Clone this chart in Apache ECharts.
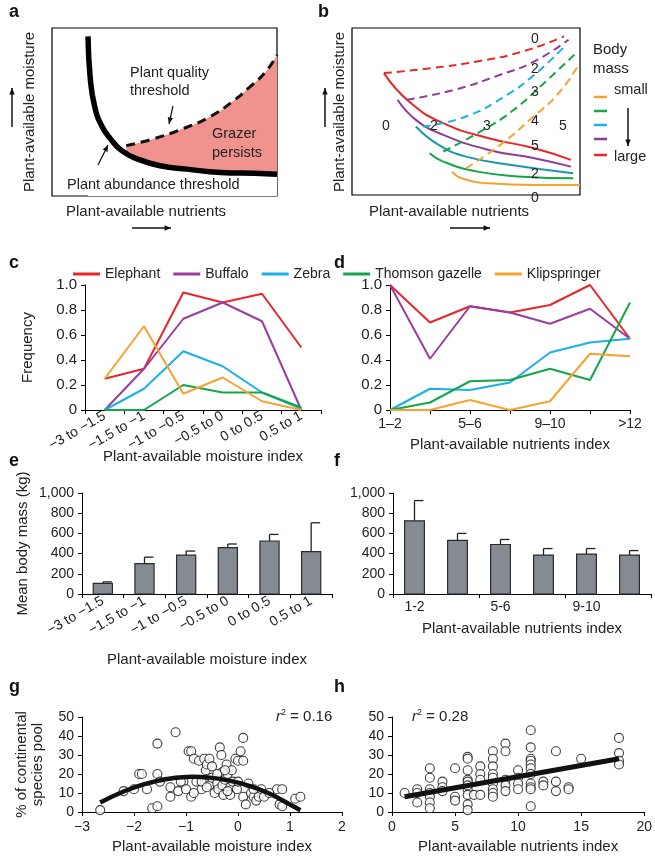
<!DOCTYPE html>
<html lang="en">
<head>
<meta charset="UTF-8">
<title>Grazer panels</title>
<script src="https://cdn.jsdelivr.net/npm/echarts@6/dist/echarts.min.js"></script>
</head>
<body style="margin:0;background:#fff">
<div id="main" style="width:655px;height:868px"></div>
<script>
// ---- panel a (schematic)
let aLowX = [0.16, 0.17, 0.19, 0.22, 0.26, 0.31, 0.38, 0.48, 0.6, 0.75, 0.9, 1.0];
let aLowY = [0.95, 0.7, 0.53, 0.42, 0.34, 0.27, 0.22, 0.18, 0.16, 0.14, 0.135, 0.13];
let aHighX = [0.33, 0.45, 0.58, 0.7, 0.8, 0.88, 0.95, 1.0];
let aHighY = [0.3, 0.34, 0.4, 0.47, 0.56, 0.65, 0.74, 0.84];
// ---- panel b (schematic)
let bLines = [
  {c:'#e8262b', solid:[[0.14,0.73],[0.25,0.56],[0.4,0.43],[0.6,0.34],[0.8,0.28],[0.96,0.21]],
                dash:[[0.14,0.73],[0.35,0.76],[0.55,0.8],[0.75,0.86],[0.93,0.95]]},
  {c:'#8e3b9b', solid:[[0.2,0.57],[0.28,0.45],[0.4,0.36],[0.6,0.27],[0.8,0.22],[0.96,0.17]],
                dash:[[0.24,0.57],[0.45,0.63],[0.65,0.72],[0.8,0.8],[0.95,0.93]]},
  {c:'#1bb0e8', solid:[[0.28,0.41],[0.38,0.3],[0.5,0.23],[0.7,0.18],[0.97,0.13]],
                dash:[[0.31,0.41],[0.5,0.47],[0.68,0.6],[0.8,0.72],[0.94,0.9]], sc:'#1a9aa8'},
  {c:'#15a54a', solid:[[0.34,0.25],[0.4,0.2],[0.55,0.14],[0.75,0.11],[0.97,0.1]],
                dash:[[0.4,0.26],[0.55,0.37],[0.7,0.5],[0.85,0.68],[0.99,0.86]]},
  {c:'#f5a330', solid:[[0.44,0.14],[0.48,0.1],[0.6,0.07],[0.8,0.06],[1.0,0.06]],
                dash:[[0.5,0.16],[0.65,0.3],[0.78,0.45],[0.9,0.6],[0.99,0.77]]}
];
// ---- panels c, d
let species = ['Elephant', 'Buffalo', 'Zebra', 'Thomson gazelle', 'Klipspringer'];
let speciesColors = ['#e8262b', '#9c3c9e', '#1bb0e8', '#15a54a', '#f5a330'];
let moistCats = ['\u22123 to \u22121.5', '\u22121.5 to \u22121', '\u22121 to \u22120.5', '\u22120.5 to 0', '0 to 0.5', '0.5 to 1'];
let cFreq = [
  [0.25, 0.33, 0.94, 0.86, 0.93, 0.5],
  [0, 0.33, 0.73, 0.86, 0.71, 0],
  [0, 0.17, 0.47, 0.35, 0.14, 0.01],
  [0, 0, 0.2, 0.14, 0.14, 0.02],
  [0.25, 0.67, 0.13, 0.26, 0.07, 0]
];
let nutCats = ['1\u20132', '3\u20134', '5\u20136', '7\u20138', '9\u201310', '11\u201312', '>12'];
let dFreq = [
  [1, 0.7, 0.83, 0.78, 0.84, 1, 0.57],
  [1, 0.41, 0.83, 0.78, 0.69, 0.81, 0.57],
  [0, 0.17, 0.16, 0.22, 0.46, 0.54, 0.57],
  [0, 0.06, 0.23, 0.24, 0.33, 0.24, 0.86],
  [0, 0, 0.08, 0, 0.07, 0.45, 0.43]
];
// ---- panels e, f
let eMass = [105, 300, 385, 460, 525, 420];
let eUpper = [120, 365, 425, 495, 590, 705];
let fCats = ['1-2', '3-4', '5-6', '7-8', '9-10', '11-12'];
let fMass = [725, 530, 490, 385, 395, 385];
let fUpper = [925, 600, 540, 450, 450, 430];
// ---- panels g, h
let gPoints = [[-2.65,1],[-2.2,11],[-2.0,12],[-1.9,20],[-1.85,20],[-1.75,12],[-1.65,2],[-1.55,36],[-1.55,3],[-1.55,20],[-1.5,16],
  [-1.3,8],[-1.3,13],[-1.2,42],[-1.15,11],[-1.05,16],[-1.0,12],[-0.95,32],[-0.9,32],[-0.9,8],[-0.85,28],[-0.8,16],[-0.75,27],
  [-0.7,12],[-0.65,28],[-0.62,22],[-0.6,25],[-0.6,17],[-0.55,28],[-0.55,14],[-0.5,24],[-0.5,18],[-0.45,10],[-0.4,15],[-0.38,12],
  [-0.35,34],[-0.32,30],[-0.3,21],[-0.3,14],[-0.28,9],[-0.25,17],[-0.22,25],[-0.2,20],[-0.15,13],[-0.12,22],[-0.1,16],[-0.05,28],
  [-0.02,12],[0,27],[0.05,32],[0.1,39],[0.1,27],[0.1,8],[0.15,4],[0.2,15],[0.25,10],[0.3,8],[0.35,6],[0.4,8],[0.45,12],[0.5,8],
  [0.75,12],[0.8,4],[0.85,12],[0.85,3],[1.1,7],[1.2,8],[-0.15,9],[-0.7,16],[-0.85,10],[-0.4,20],[-0.6,13],[0.0,16],[-0.2,11],
  [0.3,12],[0.6,10],[-1.1,16],[-0.25,22]];
let gFitX = [-2.65, -2.2, -1.8, -1.4, -1, -0.85, -0.6, -0.2, 0.2, 0.6, 1.0, 1.2];
let gFitY = [5, 10.8, 14.7, 17.2, 18.4, 18.5, 18.2, 16.7, 13.9, 9.7, 3.9, 0.9];
let hPoints = [[1,10],[2,12],[2,10],[2,5],[3,23],[3,18],[3,12],[3,10],[3,8],[3,5],[3,2],[4,16],[4,13],[4,11],[5,23],[5,8],[5,6],
  [6,29],[6,28],[6,22],[6,17],[6,16],[6,12],[6,9],[6,4],[6,1],[6,14],[6.5,9],[7,24],[7,20],[7,17],[7,9],[8,32],[8,28],[8,24],
  [8,20],[8,15],[8,12],[8,10],[8,8],[8,18],[9,36],[9,32],[9,17],[9,14],[9,11],[10,22],[10,18],[10,15],[10,12],[11,43],[11,34],
  [11,28],[11,27],[11,25],[11,23],[11,20],[11,15],[11,13],[11,12],[11,3],[12,16],[12,14],[13,32],[13,16],[13,11],[14,13],[14,12],
  [15,28],[18,39],[18,31],[18,27],[18,25]];
let hFitX = [1, 18];
let hFitY = [8, 28];

const FONT = 'Liberation Sans';
let chart = echarts.init(document.getElementById('main'));

function zip(xs, ys) { return xs.map((x, i) => [x, ys[i]]); }
let axLine = {show: true, onZero: false, lineStyle: {color: '#000', width: 1}};
let axTick = {show: true, length: 4, lineStyle: {color: '#000'}};
let lab = (sz) => ({color: '#222', fontFamily: FONT, fontSize: sz});
let hiddenVal = (gi, max) => ({type: 'value', gridIndex: gi, min: 0, max: max, show: false});

let grids = [
  {left: 52, top: 28, width: 225, height: 168, show: true, borderColor: '#000', borderWidth: 1.2},   // a 0
  {left: 352, top: 28, width: 228, height: 167, show: true, borderColor: '#000', borderWidth: 1.2},  // b 1
  {left: 85, top: 285, width: 236, height: 125},   // c 2
  {left: 390, top: 285, width: 240, height: 125},  // d 3
  {left: 82, top: 493, width: 250, height: 101},   // e 4
  {left: 393, top: 493, width: 258, height: 101},  // f 5
  {left: 82, top: 717, width: 260, height: 95},    // g 6
  {left: 392, top: 717, width: 258, height: 95}    // h 7
];

let xAxis = [
  hiddenVal(0, 1), hiddenVal(1, 1),
  {type: 'category', gridIndex: 2, data: moistCats, axisLine: axLine, axisTick: axTick,
   axisLabel: Object.assign(lab(14), {rotate: 30, margin: 5})},
  {type: 'category', gridIndex: 3, data: nutCats, boundaryGap: false, axisLine: axLine,
   axisTick: Object.assign({}, axTick, {interval: 0}), axisLabel: Object.assign(lab(14), {interval: 1, margin: 7}),
   name: 'Plant-available nutrients index', nameLocation: 'middle', nameGap: 27, nameTextStyle: lab(15)},
  {type: 'category', gridIndex: 4, data: moistCats, axisLine: axLine, axisTick: axTick,
   axisLabel: Object.assign(lab(14), {rotate: 30, margin: 6}),
   name: 'Plant-available moisture index', nameLocation: 'middle', nameGap: 58, nameTextStyle: lab(15)},
  {type: 'category', gridIndex: 5, data: fCats, axisLine: axLine, axisTick: axTick,
   axisLabel: Object.assign(lab(14), {interval: 1, margin: 6}),
   name: 'Plant-available nutrients index', nameLocation: 'middle', nameGap: 27, nameTextStyle: lab(15)},
  {type: 'value', gridIndex: 6, min: -3, max: 2, interval: 1, axisLine: axLine, axisTick: axTick, splitLine: {show: false},
   axisLabel: Object.assign(lab(14), {formatter: v => String(v).replace('-', '\u2212')}),
   name: 'Plant-available moisture index', nameLocation: 'middle', nameGap: 27, nameTextStyle: lab(15)},
  {type: 'value', gridIndex: 7, min: 0, max: 20, interval: 5, axisLine: axLine, axisTick: axTick, splitLine: {show: false},
   axisLabel: lab(14),
   name: 'Plant-available nutrients index', nameLocation: 'middle', nameGap: 27, nameTextStyle: lab(15)}
];

function freqY(gi, name) {
  return {type: 'value', gridIndex: gi, min: 0, max: 1, interval: 0.2, axisLine: axLine, axisTick: axTick,
    splitLine: {show: false}, axisLabel: Object.assign(lab(15), {formatter: v => v === 0 ? '0' : v.toFixed(1)}),
    name: name, nameLocation: 'middle', nameGap: 50, nameTextStyle: lab(15)};
}
function massY(gi, name) {
  return {type: 'value', gridIndex: gi, min: 0, max: 1000, interval: 200, axisLine: axLine, axisTick: axTick,
    splitLine: {show: false}, axisLabel: Object.assign(lab(14), {formatter: v => v === 1000 ? '1,000' : String(v)}),
    name: name, nameLocation: 'middle', nameGap: 52, nameTextStyle: lab(15)};
}
function pctY(gi, name) {
  return {type: 'value', gridIndex: gi, min: 0, max: 50, interval: 10, axisLine: axLine, axisTick: axTick,
    splitLine: {show: false}, axisLabel: lab(14),
    name: name, nameLocation: 'middle', nameGap: 36, nameTextStyle: Object.assign(lab(15), {lineHeight: 16})};
}
let yAxis = [
  hiddenVal(0, 1), hiddenVal(1, 1),
  freqY(2, 'Frequency'), freqY(3, ''),
  massY(4, 'Mean body mass (kg)'), massY(5, ''),
  pctY(6, '% of continental\nspecies pool'), pctY(7, '')
];

let series = [];
// a
series.push({type: 'line', xAxisIndex: 0, yAxisIndex: 0, data: zip(aHighX, aHighY), symbol: 'none', smooth: true,
  lineStyle: {color: '#111', width: 3, type: [9, 6]}, areaStyle: {color: '#f0938e', opacity: 1}, z: 2});
series.push({type: 'line', xAxisIndex: 0, yAxisIndex: 0, data: zip(aLowX, aLowY), symbol: 'none', smooth: true,
  lineStyle: {color: '#000', width: 5.5}, areaStyle: {color: '#fff', opacity: 1}, z: 3});
// b
bLines.forEach(l => {
  series.push({type: 'line', xAxisIndex: 1, yAxisIndex: 1, data: l.solid, symbol: 'none', smooth: true,
    lineStyle: {color: l.sc || l.c, width: 2}});
  series.push({type: 'line', xAxisIndex: 1, yAxisIndex: 1, data: l.dash, symbol: 'none', smooth: true,
    lineStyle: {color: l.c, width: 2, type: [8, 5]}});
});
// c, d
species.forEach((s, i) => {
  series.push({name: s, type: 'line', xAxisIndex: 2, yAxisIndex: 2, data: cFreq[i], symbol: 'none',
    lineStyle: {color: speciesColors[i], width: 2}, itemStyle: {color: speciesColors[i]}});
  series.push({name: s, type: 'line', xAxisIndex: 3, yAxisIndex: 3, data: dFreq[i], symbol: 'none',
    lineStyle: {color: speciesColors[i], width: 2}, itemStyle: {color: speciesColors[i]}});
});
// e, f : bars with upper error bars
function barsWithErr(xi, vals, upper) {
  return {type: 'custom', xAxisIndex: xi, yAxisIndex: xi, data: vals.map((v, i) => [i, v, upper[i]]),
    renderItem: function (params, api) {
      let base = api.coord([api.value(0), 0]);
      let top = api.coord([api.value(0), api.value(1)]);
      let err = api.coord([api.value(0), api.value(2)]);
      let w = api.size([1, 0])[0] * 0.46;
      let x = base[0];
      return {type: 'group', children: [
        {type: 'line', shape: {x1: x, y1: top[1], x2: x, y2: err[1]}, style: {stroke: '#222', lineWidth: 1.3}},
        {type: 'line', shape: {x1: x, y1: err[1], x2: x + 9, y2: err[1]}, style: {stroke: '#222', lineWidth: 1.3}},
        {type: 'rect', shape: {x: x - w / 2, y: top[1], width: w, height: base[1] - top[1]},
         style: {fill: '#858b92', stroke: '#2b2b2b', lineWidth: 1.2}}
      ]};
    }};
}
series.push(barsWithErr(4, eMass, eUpper));
series.push(barsWithErr(5, fMass, fUpper));
// g, h
let ring = {color: '#fff', borderColor: '#111', borderWidth: 1.1};
series.push({type: 'scatter', xAxisIndex: 6, yAxisIndex: 6, data: gPoints, symbolSize: 9, itemStyle: ring, z: 2});
series.push({type: 'line', xAxisIndex: 6, yAxisIndex: 6, data: zip(gFitX, gFitY), symbol: 'none', smooth: true,
  lineStyle: {color: '#111', width: 4.5}, z: 3});
series.push({type: 'scatter', xAxisIndex: 7, yAxisIndex: 7, data: hPoints, symbolSize: 9, itemStyle: ring, z: 2});
series.push({type: 'line', xAxisIndex: 7, yAxisIndex: 7, data: zip(hFitX, hFitY), symbol: 'none',
  lineStyle: {color: '#111', width: 5}, z: 3});

// decorations
function txt(x, y, s, sz, lh, rot) {
  let el = {type: 'text', left: x, top: y, z: 100,
    style: {text: s, fill: '#222', font: sz + 'px "' + FONT + '"', lineHeight: lh || sz + 2}};
  if (rot) el.rotation = rot;
  return el;
}
function letter(x, y, s) {
  return {type: 'text', left: x, top: y, z: 100, style: {text: s, fill: '#111', font: 'bold 18px "' + FONT + '"'}};
}
function arrow(x1, y1, x2, y2, w) {
  let ang = Math.atan2(y2 - y1, x2 - x1), h = 7;
  let p1 = [x2 - h * Math.cos(ang - 0.4), y2 - h * Math.sin(ang - 0.4)];
  let p2 = [x2 - h * Math.cos(ang + 0.4), y2 - h * Math.sin(ang + 0.4)];
  return [
    {type: 'line', z: 100, shape: {x1: x1, y1: y1, x2: x2, y2: y2}, style: {stroke: '#111', lineWidth: w || 1.5}},
    {type: 'polygon', z: 100, shape: {points: [[x2, y2], p1, p2]}, style: {fill: '#111'}}
  ];
}
let bColorsLegend = ['#f5a330', '#15a54a', '#1bb0e8', '#8e3b9b', '#e8262b'];
let graphic = [
  letter(9, 3, 'a'), letter(318, 3, 'b'), letter(9, 254, 'c'), letter(334, 254, 'd'),
  letter(9, 452, 'e'), letter(334, 452, 'f'), letter(9, 678, 'g'), letter(334, 678, 'h'),
  txt(21, 32, 'Plant-available moisture', 15, 0, Math.PI / 2),
  txt(66, 203, 'Plant-available nutrients', 15),
  txt(130, 64, 'Plant quality\nthreshold', 14.5, 18),
  txt(212, 124, 'Grazer\npersists', 14.5, 19),
  txt(67, 177, 'Plant abundance threshold', 14.5),
  txt(331, 32, 'Plant-available moisture', 15, 0, Math.PI / 2),
  txt(369, 203, 'Plant-available nutrients', 15),
  txt(593, 40, 'Body\nmass', 15, 19),
  txt(614, 82, 'small', 14.5), txt(614, 149, 'large', 14.5),
  txt(103, 448, 'Plant-available moisture index', 15)
].concat(
  arrow(12, 127, 12, 88), arrow(132, 228, 171, 228),
  arrow(325, 127, 325, 88), arrow(450, 228, 490, 228),
  arrow(173, 106, 169, 124, 1.2), arrow(98, 165, 108, 145, 1.2),
  arrow(628, 108, 628, 146)
);
[97, 111, 125, 139, 155].forEach((y, i) => {
  graphic.push({type: 'line', z: 100, shape: {x1: 594, y1: y, x2: 607, y2: y}, style: {stroke: bColorsLegend[i], lineWidth: 2.5}});
});
// number labels in b
[['0', 531, 31], ['2', 531, 61], ['3', 531, 84], ['4', 531, 113], ['5', 531, 138], ['2', 531, 166], ['0', 531, 190],
 ['0', 382, 118], ['2', 430, 118], ['3', 483, 118], ['5', 559, 118]].forEach(n => graphic.push(txt(n[1], n[2], n[0], 14)));
let r2rich = {i: {fontStyle: 'italic', fontSize: 15, fontFamily: FONT}, s: {fontSize: 9, fontFamily: FONT, verticalAlign: 'top', padding: [0, 0, 8, 0]}, n: {fontSize: 15, fontFamily: FONT}};
graphic.push({type: 'text', z: 100, left: 276, top: 708, style: {rich: r2rich, text: '{i|r}{s|2}{n| = 0.16}', fill: '#222'}});
graphic.push({type: 'text', z: 100, left: 412, top: 708, style: {rich: r2rich, text: '{i|r}{s|2}{n| = 0.28}', fill: '#222'}});

chart.setOption({
  animation: false,
  textStyle: {fontFamily: FONT},
  legend: {data: species, left: 68, top: 262, itemWidth: 27, itemHeight: 3, itemGap: 13, icon: 'rect',
    textStyle: lab(14), selectedMode: false},
  grid: grids, xAxis: xAxis, yAxis: yAxis, series: series, graphic: graphic
});
</script>
</body>
</html>
